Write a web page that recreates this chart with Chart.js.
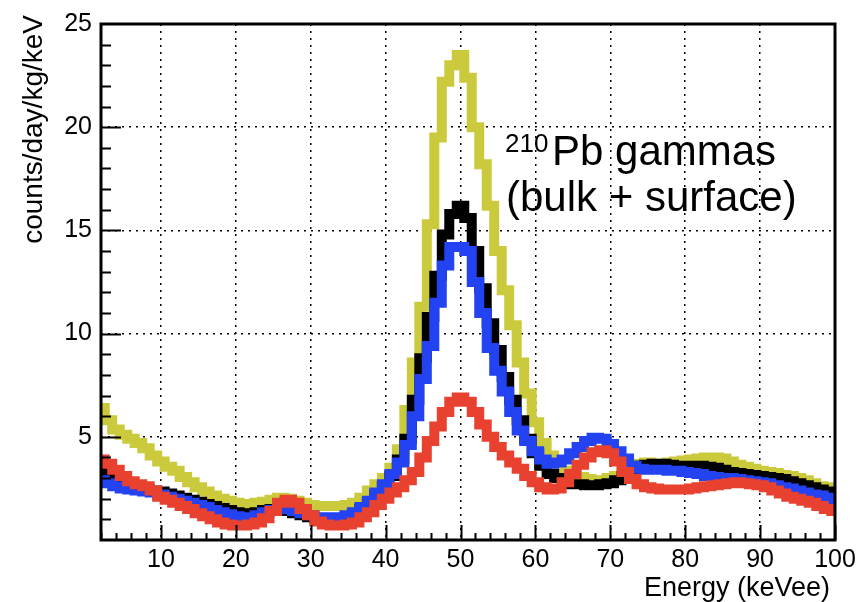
<!DOCTYPE html>
<html lang="en">
<head>
    <meta charset="UTF-8">
    <title>210Pb gammas spectrum</title>
    <script src="https://cdn.jsdelivr.net/npm/chart.js"></script>
    <style>
        body {
            margin: 0;
            background: #fff;
        }
        #wrap {
            width: 867px;
            height: 602px;
        }
    </style>
</head>
<body>
    <div id="wrap"><canvas id="spectrum" width="867" height="602"></canvas></div>

    <script>
        // bin centres (keVee)
        const energy = [2, 3, 4, 5, 6, 7, 8, 9, 10, 11, 12, 13, 14, 15, 16, 17, 18, 19, 20, 21,
            22, 23, 24, 25, 26, 27, 28, 29, 30, 31, 32, 33, 34, 35, 36, 37, 38, 39, 40, 41,
            42, 43, 44, 45, 46, 47, 48, 49, 50, 51, 52, 53, 54, 55, 56, 57, 58, 59, 60, 61,
            62, 63, 64, 65, 66, 67, 68, 69, 70, 71, 72, 73, 74, 75, 76, 77, 78, 79, 80, 81,
            82, 83, 84, 85, 86, 87, 88, 89, 90, 91, 92, 93, 94, 95, 96, 97, 98, 99, 100];

        const yellowRate = [6.4, 5.8, 5.35, 5.1, 4.9, 4.7, 4.45, 4.1, 3.8, 3.55, 3.35, 3.05, 2.8, 2.55, 2.35, 2.15, 2.0, 1.9, 1.8, 1.75,
            1.75, 1.8, 1.85, 1.95, 2.05, 2.0, 1.9, 1.8, 1.7, 1.65, 1.65, 1.65, 1.65, 1.7, 1.8, 2.05, 2.4, 2.7, 3.0, 3.5,
            4.4, 6.3, 8.6, 11.3, 15.3, 19.5, 22.2, 23.0, 23.5, 22.4, 20.0, 18.2, 16.2, 14.0, 12.1, 10.4, 8.6, 7.1, 5.7, 4.7,
            4.1, 3.6, 3.35, 3.15, 3.05, 2.95, 2.9, 2.9, 3.0, 3.1, 3.3, 3.55, 3.7, 3.75, 3.7, 3.7, 3.75, 3.8, 3.85, 3.9,
            3.95, 4.0, 4.0, 3.95, 3.8, 3.65, 3.55, 3.45, 3.35, 3.3, 3.25, 3.15, 3.1, 3.0, 2.9, 2.75, 2.6, 2.55, 2.5];

        const blackRate = [3.0, 3.3, 2.8, 2.6, 2.55, 2.5, 2.45, 2.4, 2.35, 2.25, 2.15, 2.05, 1.95, 1.85, 1.75, 1.65, 1.55, 1.45, 1.35, 1.3,
            1.3, 1.35, 1.45, 1.5, 1.5, 1.4, 1.3, 1.2, 1.1, 1.0, 0.95, 0.95, 1.0, 1.1, 1.3, 1.5, 1.8, 2.2, 2.6, 3.1,
            3.9, 4.9, 6.8, 8.8, 10.8, 12.8, 14.8, 15.8, 16.2, 15.6, 14.0, 12.2, 10.5, 9.2, 7.9, 6.8, 5.8, 4.9, 4.2, 3.6,
            3.2, 3.0, 2.8, 2.7, 2.7, 2.65, 2.65, 2.7, 2.75, 2.9, 3.1, 3.4, 3.6, 3.65, 3.7, 3.7, 3.65, 3.6, 3.6, 3.6,
            3.6, 3.55, 3.5, 3.4, 3.3, 3.25, 3.2, 3.15, 3.1, 3.05, 3.0, 2.95, 2.85, 2.75, 2.65, 2.55, 2.45, 2.35, 2.3];

        const blueRate = [2.9, 2.75, 2.6, 2.5, 2.45, 2.4, 2.35, 2.3, 2.2, 2.1, 2.0, 1.9, 1.8, 1.7, 1.6, 1.45, 1.35, 1.25, 1.15, 1.1,
            1.1, 1.2, 1.35, 1.45, 1.55, 1.5, 1.4, 1.3, 1.2, 1.1, 1.1, 1.1, 1.1, 1.2, 1.35, 1.6, 1.9, 2.3, 2.7, 3.2,
            3.75, 4.6, 6.0, 7.8, 9.4, 11.5, 13.3, 14.2, 14.2, 14.0, 12.5, 11.0, 9.3, 8.2, 7.2, 6.2, 5.3, 4.8, 4.3, 3.9,
            3.7, 3.75, 3.9, 4.2, 4.5, 4.8, 4.95, 4.9, 4.65, 4.3, 3.95, 3.6, 3.45, 3.4, 3.4, 3.4, 3.35, 3.35, 3.3, 3.25,
            3.2, 3.1, 3.05, 3.0, 3.0, 2.95, 2.9, 2.85, 2.8, 2.75, 2.65, 2.55, 2.5, 2.4, 2.3, 2.2, 2.15, 2.05, 1.95];

        const redRate = [3.9, 3.7, 3.4, 3.1, 2.85, 2.7, 2.6, 2.4, 2.1, 1.95, 1.8, 1.65, 1.5, 1.3, 1.15, 1.0, 0.85, 0.75, 0.7, 0.7,
            0.75, 0.85, 1.05, 1.4, 1.8, 1.95, 1.8, 1.5, 1.2, 0.9, 0.75, 0.7, 0.7, 0.75, 0.85, 1.1, 1.35, 1.7, 2.0, 2.3,
            2.55, 2.9, 3.3, 4.0, 4.8, 5.5, 6.2, 6.7, 6.9, 6.7, 6.2, 5.6, 5.0, 4.5, 4.1, 3.75, 3.45, 3.1, 2.8, 2.55,
            2.45, 2.5, 2.8, 3.2, 3.65, 4.0, 4.25, 4.35, 4.2, 3.8, 3.3, 2.95, 2.7, 2.55, 2.5, 2.45, 2.45, 2.45, 2.45, 2.5,
            2.55, 2.6, 2.65, 2.7, 2.75, 2.8, 2.75, 2.7, 2.65, 2.55, 2.4, 2.25, 2.1, 2.0, 1.9, 1.8, 1.65, 1.5, 1.4];

        const xTickLabels = [10, 20, 30, 40, 50, 60, 70, 80, 90, 100];
        const yTickLabels = [5, 10, 15, 20, 25];

        const toPoints = (vals) => vals.map((v, i) => ({ x: energy[i], y: v }));

        // ROOT style frame, inward ticks, axis titles and the label
        const rootDecor = {
            id: 'rootDecor',
            afterDraw(chart) {
                const { ctx, chartArea: a, scales } = chart;
                const xs = scales.x, ys = scales.y;
                ctx.save();
                ctx.strokeStyle = '#000';
                ctx.lineWidth = 3;
                ctx.strokeRect(a.left, a.top, a.right - a.left, a.bottom - a.top);

                ctx.lineWidth = 2;
                ctx.beginPath();
                for (let e = 2; e <= 100; e += 2) {
                    const px = Math.round(xs.getPixelForValue(e)) + 0.5;
                    const len = e % 10 === 0 ? 15 : 7;
                    ctx.moveTo(px, a.bottom);
                    ctx.lineTo(px, a.bottom - len);
                }
                for (let v = 1; v < 25; v++) {
                    const py = Math.round(ys.getPixelForValue(v)) + 0.5;
                    const len = v % 5 === 0 ? 20 : 10;
                    ctx.moveTo(a.left, py);
                    ctx.lineTo(a.left + len, py);
                }
                ctx.stroke();

                ctx.fillStyle = '#000';
                ctx.font = '27px "Liberation Sans", Arial, sans-serif';
                ctx.textAlign = 'right';
                ctx.textBaseline = 'alphabetic';
                ctx.fillText('Energy (keVee)', 830, 596);

                ctx.save();
                ctx.translate(42, 15);
                ctx.rotate(-Math.PI / 2);
                ctx.font = '28px "Liberation Sans", Arial, sans-serif';
                ctx.fillText('counts/day/kg/keV', 0, 0);
                ctx.restore();

                ctx.textAlign = 'left';
                ctx.font = '26px "Liberation Sans", Arial, sans-serif';
                ctx.fillText('210', 505, 152);
                ctx.font = '42px "Liberation Sans", Arial, sans-serif';
                ctx.fillText('Pb gammas', 552, 165);
                ctx.fillText('(bulk + surface)', 506, 211);
                ctx.restore();
            }
        };

        const lineStyle = (label, data, color) => ({
            label: label,
            data: toPoints(data),
            borderColor: color,
            backgroundColor: color,
            borderWidth: 10,
            pointRadius: 0,
            stepped: 'middle',
            borderJoinStyle: 'miter',
            fill: false
        });

        new Chart(document.getElementById('spectrum'), {
            type: 'line',
            data: {
                datasets: [
                    lineStyle('red', redRate, '#e8412f'),
                    lineStyle('blue', blueRate, '#2342f2'),
                    lineStyle('black', blackRate, '#000000'),
                    lineStyle('yellow', yellowRate, '#caca3c')
                ]
            },
            options: {
                responsive: false,
                animation: false,
                events: [],
                layout: { padding: { top: 17, right: 32, left: 0, bottom: 0 } },
                plugins: {
                    legend: { display: false },
                    tooltip: { enabled: false }
                },
                scales: {
                    x: {
                        type: 'linear',
                        min: 2,
                        max: 100,
                        afterFit: (s) => { s.height = 62; },
                        afterBuildTicks: (s) => { s.ticks = xTickLabels.map(v => ({ value: v })); },
                        grid: { color: '#000', lineWidth: 1.5, drawTicks: false },
                        border: { display: false, dash: [2, 5] },
                        ticks: {
                            color: '#000',
                            padding: 5,
                            maxRotation: 0,
                            font: { family: '"Liberation Sans", Arial, sans-serif', size: 25 }
                        }
                    },
                    y: {
                        type: 'linear',
                        min: 0,
                        max: 25,
                        afterFit: (s) => { s.width = 101; },
                        afterBuildTicks: (s) => { s.ticks = yTickLabels.map(v => ({ value: v })); },
                        grid: { color: '#000', lineWidth: 1.5, drawTicks: false },
                        border: { display: false, dash: [2, 5] },
                        ticks: {
                            color: '#000',
                            padding: 9,
                            font: { family: '"Liberation Sans", Arial, sans-serif', size: 25 }
                        }
                    }
                }
            },
            plugins: [rootDecor]
        });
    </script>
</body>
</html>
